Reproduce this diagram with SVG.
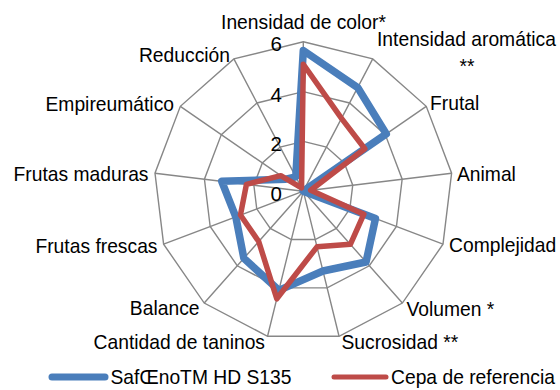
<svg xmlns="http://www.w3.org/2000/svg" width="560" height="390" viewBox="0 0 560 390">
<style>
.grid{fill:none;stroke:#878787;stroke-width:1.4;stroke-linejoin:miter}
.lbl{font-family:"Liberation Sans",Arial,sans-serif;font-size:20.3px;fill:#000}
.num{font-family:"Liberation Sans",Arial,sans-serif;font-size:20.5px;fill:#000;text-anchor:end}
.blue{fill:none;stroke:#4A7EBB;stroke-width:7.5;stroke-linejoin:round;stroke-linecap:round}
.red{fill:none;stroke:#BE4B48;stroke-width:5.5;stroke-linejoin:round;stroke-linecap:round}
</style>
<rect width="560" height="390" fill="#fff"/>
<g id="grid">
<polygon class="grid" points="303.3,41.8 372.73,58.91 426.25,106.33 451.61,173.19 442.99,244.18 402.37,303.03 339.05,336.26 267.55,336.26 204.23,303.03 163.61,244.18 154.99,173.19 180.35,106.33 233.87,58.91"/>
<polygon class="grid" points="303.3,91.6 349.59,103.01 385.27,134.62 402.17,179.19 396.43,226.52 369.35,265.75 327.14,287.91 279.46,287.91 237.25,265.75 210.17,226.52 204.43,179.19 221.33,134.62 257.01,103.01"/>
<polygon class="grid" points="303.3,141.4 326.44,147.1 344.28,162.91 352.74,185.2 349.86,208.86 336.32,228.48 315.22,239.55 291.38,239.55 270.28,228.48 256.74,208.86 253.86,185.2 262.32,162.91 280.16,147.1"/>
<path class="grid" d="M303.3,191.2L303.3,41.8M303.3,191.2L372.73,58.91M303.3,191.2L426.25,106.33M303.3,191.2L451.61,173.19M303.3,191.2L442.99,244.18M303.3,191.2L402.37,303.03M303.3,191.2L339.05,336.26M303.3,191.2L267.55,336.26M303.3,191.2L204.23,303.03M303.3,191.2L163.61,244.18M303.3,191.2L154.99,173.19M303.3,191.2L180.35,106.33M303.3,191.2L233.87,58.91"/>
</g>
<g id="axis-values">
<text class="num" x="282" y="51">6</text>
<text class="num" x="282" y="101.5">4</text>
<text class="num" x="282" y="151">2</text>
<text class="num" x="282" y="200.5">0</text>
</g>
<g id="connectors">
<polygon id="series-blue" class="blue" points="303.3,50.51 357.69,87.57 386.3,133.91 303.3,191.2 375.47,218.57 366.04,262.02 322.96,270.98 278.87,290.32 243.86,258.3 235.78,216.81 221.73,181.3 285.88,179.17 295.78,176.86"/>
<polygon id="series-red" class="red" points="303.3,64.21 341.49,118.44 364.78,148.77 310.72,190.3 363.83,214.16 350.36,244.32 317.01,246.81 276.78,298.79 258.72,241.52 240.44,215.04 246.45,184.3 280.76,175.64 301.56,187.89"/>
</g>
<g id="labels">
<text id="l0" class="lbl" transform="translate(303.5,29.3) scale(0.95,1)" text-anchor="middle">Inensidad de color*</text>
<text id="l1" class="lbl" transform="translate(377,46) scale(0.95,1)">Intensidad aromática</text>
<text id="l1b" class="lbl" transform="translate(467,73) scale(0.95,1)" text-anchor="middle">**</text>
<text id="l2" class="lbl" transform="translate(430,110) scale(0.95,1)">Frutal</text>
<text id="l3" class="lbl" transform="translate(457,180.5) scale(0.95,1)">Animal</text>
<text id="l4" class="lbl" transform="translate(449,252) scale(0.95,1)">Complejidad</text>
<text id="l5" class="lbl" transform="translate(406.5,316) scale(0.95,1)">Volumen *</text>
<text id="l6" class="lbl" transform="translate(341.5,348.5) scale(0.95,1)">Sucrosidad **</text>
<text id="l7" class="lbl" transform="translate(265,348.5) scale(0.95,1)" text-anchor="end">Cantidad de taninos</text>
<text id="l8" class="lbl" transform="translate(199.5,315) scale(0.95,1)" text-anchor="end">Balance</text>
<text id="l9" class="lbl" transform="translate(157.5,253) scale(0.95,1)" text-anchor="end">Frutas frescas</text>
<text id="l10" class="lbl" transform="translate(148.5,180.5) scale(0.95,1)" text-anchor="end">Frutas maduras</text>
<text id="l11" class="lbl" transform="translate(174,110.5) scale(0.95,1)" text-anchor="end">Empireumático</text>
<text id="l12" class="lbl" transform="translate(230,61.5) scale(0.95,1)" text-anchor="end">Reducción</text>
</g>
<g id="legend">
<line x1="52" y1="377" x2="105" y2="377" stroke="#4A7EBB" stroke-width="7" stroke-linecap="round"/>
<text class="lbl" transform="translate(110.5,384) scale(0.95,1)">SafŒnoTM HD S135</text>
<line x1="334" y1="377" x2="386" y2="377" stroke="#BE4B48" stroke-width="5" stroke-linecap="round"/>
<text class="lbl" transform="translate(391,384) scale(0.95,1)">Cepa de referencia</text>
</g>
</svg>
